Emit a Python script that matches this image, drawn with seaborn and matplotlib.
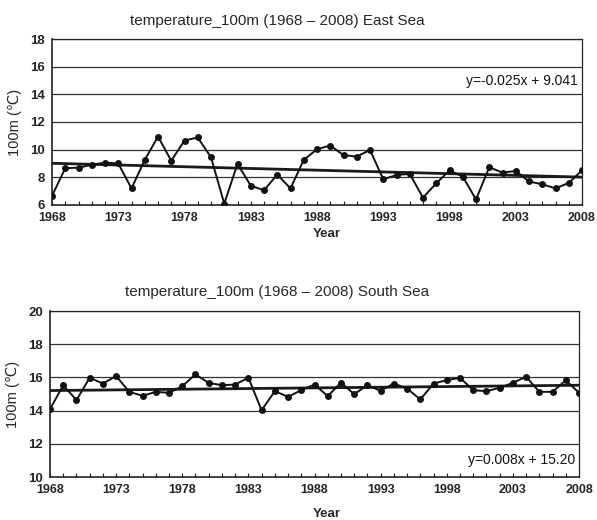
import numpy as np
import pandas as pd
import matplotlib
matplotlib.use("Agg")
import matplotlib.pyplot as plt
import seaborn as sns

years = list(range(1968, 2009))
east_sea = [6.65, 8.66, 8.7, 8.9, 9.07, 9.0, 7.2, 9.26, 10.95, 9.2, 10.66, 10.88, 9.45, 6.1,
            8.97, 7.4, 7.06, 8.2, 7.2, 9.26, 10.03, 10.3, 9.6, 9.5, 9.98, 7.86, 8.17, 8.25,
            6.53, 7.57, 8.5, 8.05, 6.4, 8.73, 8.34, 8.46, 7.7, 7.5, 7.2, 7.6, 8.5]
south_sea = [14.08, 15.53, 14.63, 15.98, 15.63, 16.08, 15.13, 14.89, 15.13, 15.07, 15.47, 16.18,
             15.67, 15.53, 15.57, 15.98, 14.02, 15.17, 14.83, 15.23, 15.57, 14.87, 15.69, 14.99,
             15.53, 15.19, 15.63, 15.33, 14.67, 15.63, 15.83, 15.98, 15.23, 15.17, 15.37, 15.67,
             16.04, 15.13, 15.13, 15.83, 15.07]
east_trend = [-0.025, 9.041]   # slope, intercept
south_trend = [0.008, 15.20]
east_eq = "y=-0.025x + 9.041"
south_eq = "y=0.008x + 15.20"
titles = ["temperature_100m (1968 \u2013 2008) East Sea",
          "temperature_100m (1968 \u2013 2008) South Sea"]
xtick_years = list(range(1968, 2009, 5))

sns.set_theme(style="white")
plt.rcParams['font.family'] = ['Liberation Sans', 'DejaVu Sans']

fig = plt.figure(figsize=(5.97, 5.20), dpi=100)
ax1 = fig.add_axes([52/597, 1-205/520, 530/597, 166/520])
ax2 = fig.add_axes([50/597, 1-477/520, 529/597, 166/520])

def draw(ax, vals, trend, ylim, eq, eq_y, title, title_y, xlabel_y):
    df = pd.DataFrame({"Year": years, "val": vals})
    idx = np.arange(1, len(years) + 1)
    df["trend"] = trend[1] + trend[0] * idx
    for yv in range(ylim[0] + 2, ylim[1] + 1, 2):
        ax.axhline(yv, color="#333333", lw=0.9, zorder=1)
    sns.lineplot(data=df, x="Year", y="trend", ax=ax, color="#1a1a1a", lw=2.0, zorder=2)
    sns.lineplot(data=df, x="Year", y="val", ax=ax, color="#111111", lw=1.4,
                 marker="o", markersize=5, markeredgewidth=0, zorder=3)
    ax.set_xlim(1968, 2008)
    ax.set_ylim(*ylim)
    ax.set_xticks(xtick_years)
    ax.set_xticks(years, minor=True)
    ax.set_yticks(range(ylim[0], ylim[1] + 1, 2))
    ax.tick_params(axis="x", which="minor", direction="in", length=3, width=0.8, color="#222222", bottom=True)
    ax.tick_params(axis="x", which="major", direction="in", length=3, width=0.8, color="#222222", bottom=True,
                   labelsize=9, pad=5)
    ax.tick_params(axis="y", which="major", length=0, labelsize=9.5, pad=5)
    for lab in ax.get_xticklabels() + ax.get_yticklabels():
        lab.set_fontweight("bold")
    ax.set_xlabel("")
    ax.set_ylabel("100m (\u2103)", fontsize=10.5, labelpad=6)
    for s in ax.spines.values():
        s.set_color("#222222")
        s.set_linewidth(0.9)
    ax.spines["left"].set_linewidth(1.2)
    ax.spines["bottom"].set_linewidth(1.2)
    ax.text(2007.7, eq_y, eq, ha="right", va="center", fontsize=10, color="#111111")
    fig.text(277/597, 1 - title_y/520, title, ha="center", va="center", fontsize=11)
    fig.text(327/597, 1 - xlabel_y/520, "Year", ha="center", va="center", fontsize=9.5, fontweight="bold")

draw(ax1, east_sea, east_trend, (6, 18), east_eq, 15.0, titles[0], 21, 234)
draw(ax2, south_sea, south_trend, (10, 20), south_eq, 11.0, titles[1], 292, 514)

fig.savefig("out.png", dpi=100, facecolor="white")
